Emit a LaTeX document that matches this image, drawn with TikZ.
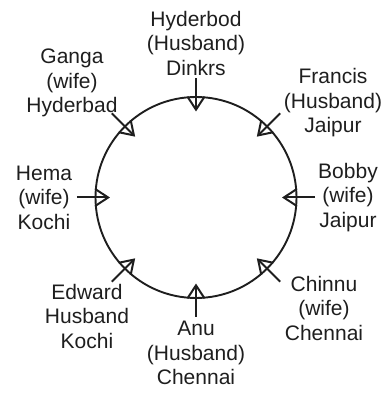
\documentclass[tikz,border=0pt]{standalone}
\usepackage{fontspec}
\setmainfont{Liberation Sans}
\usepackage{xcolor}
\usetikzlibrary{arrows.meta,positioning}
\definecolor{ink}{HTML}{1E1E1E}
\tikzset{
  seatlabel/.style={align=center,inner sep=1pt,text=ink,
                    font=\fontsize{21}{24.5}\selectfont},
  ring/.style={draw=ink,circle,line width=1.9pt,minimum size=201pt,inner sep=0pt},
  pointer/.style={-{Straight Barb[length=13pt,width=17pt,line width=2pt]},
                  line width=2pt,color=ink}
}

\begin{document}
\begin{tikzpicture}[x=1pt,y=1pt]
      \useasboundingbox (-196,-195.5) rectangle (190,197.5);
      \node[ring] (table) at (0,0) {};
      \node[seatlabel] (hyderbod) at (0,154.5) {Hyderbod\\(Husband)\\Dinkrs};
      \node[seatlabel] (ganga) at (-124,114.5) {Ganga\\(wife)\\Hyderbad};
      \node[seatlabel] (francis) at (137,94.5) {Francis\\(Husband)\\Jaipur};
      \node[seatlabel] (hema) at (-152,0) {Hema\\(wife)\\Kochi};
      \node[seatlabel] (bobby) at (152,0) {Bobby\\(wife)\\Jaipur};
      \node[seatlabel] (edward) at (-109,-118.5) {Edward\\Husband\\Kochi};
      \node[seatlabel] (anu) at (0,-155.5) {Anu\\(Husband)\\Chennai};
      \node[seatlabel] (chinnu) at (128,-110.5) {Chinnu\\(wife)\\Chennai};
      % arrows pointing to the seats
      \foreach \ang/\who in {90/hyderbod,135/ganga,45/francis,180/hema,
                             0/bobby,225/edward,270/anu,315/chinnu} {
        \coordinate (\who-from) at (\ang:119);
        \coordinate (\who-seat) at (\ang:86);
        \draw[pointer] (\who-from)--(\who-seat);
      }
    \end{tikzpicture}
\end{document}
